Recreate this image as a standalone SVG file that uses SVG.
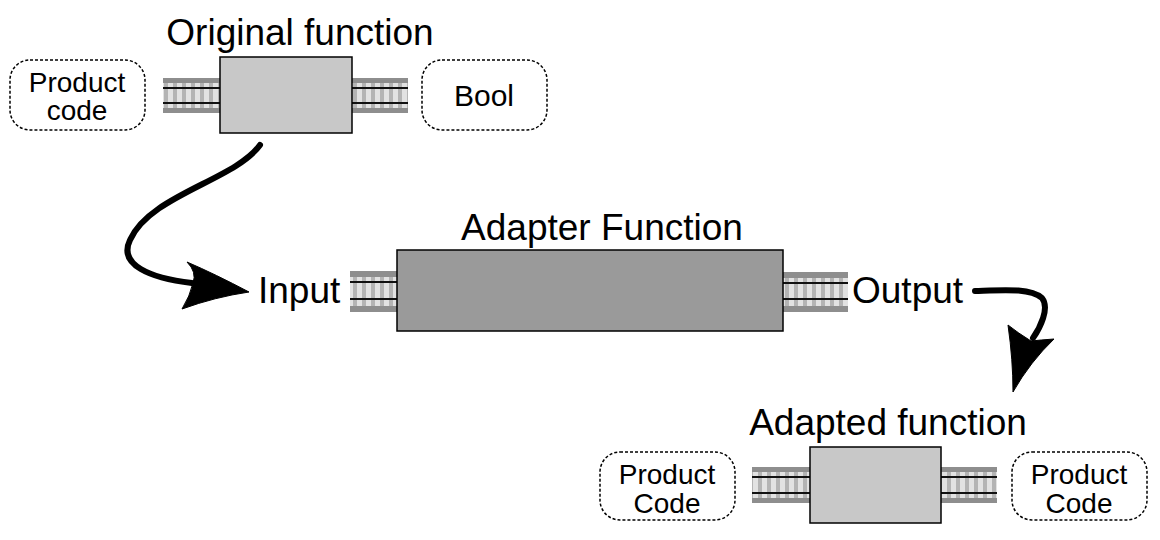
<svg xmlns="http://www.w3.org/2000/svg" width="1160" height="540" viewBox="0 0 1160 540">
<defs>
<style>
.lbl{font-family:"Liberation Sans",Arial,sans-serif;font-size:37px;fill:#000;}
.btxt{font-family:"Liberation Sans",Arial,sans-serif;font-size:28px;fill:#000;text-anchor:middle;}
.bubble{fill:#fff;stroke:#000;stroke-width:1.5;stroke-dasharray:3 2;}
.fn{fill:#c8c8c8;stroke:#000;stroke-width:1.5;}
.adp{fill:#9a9a9a;stroke:#000;stroke-width:1.5;}
.rbg{fill:#e2e2e2;}
.rties{fill:url(#ties);}
.rband{fill:#8e8e8e;}
.rline{fill:#111;}
.conn{fill:none;stroke:#000;stroke-width:6;stroke-linecap:round;}
.head{fill:#000;stroke:#000;stroke-width:1;stroke-linejoin:round;}
</style>
<pattern id="ties" patternUnits="userSpaceOnUse" width="9" height="10" x="0" y="0">
<rect x="2" y="0" width="4" height="10" fill="#b4b4b4"/>
</pattern>
</defs>
<rect width="1160" height="540" fill="#fff"/>

<g id="rails">
<g>
<rect class="rbg" x="163" y="78" width="57" height="35"/>
<rect class="rties" x="163" y="78" width="57" height="35"/>
<rect class="rband" x="163" y="78" width="57" height="5"/>
<rect class="rband" x="163" y="108" width="57" height="5"/>
<rect class="rline" x="163" y="87" width="57" height="2"/>
<rect class="rline" x="163" y="102" width="57" height="2"/>
</g>
<g>
<rect class="rbg" x="352" y="78" width="56" height="35"/>
<rect class="rties" x="352" y="78" width="56" height="35"/>
<rect class="rband" x="352" y="78" width="56" height="5"/>
<rect class="rband" x="352" y="108" width="56" height="5"/>
<rect class="rline" x="352" y="87" width="56" height="2"/>
<rect class="rline" x="352" y="102" width="56" height="2"/>
</g>
<g>
<rect class="rbg" x="350" y="271" width="47" height="41"/>
<rect class="rties" x="350" y="271" width="47" height="41"/>
<rect class="rband" x="350" y="271" width="47" height="6"/>
<rect class="rband" x="350" y="306" width="47" height="6"/>
<rect class="rline" x="350" y="281" width="47" height="2"/>
<rect class="rline" x="350" y="298" width="47" height="2"/>
</g>
<g>
<rect class="rbg" x="783" y="272" width="65" height="40"/>
<rect class="rties" x="783" y="272" width="65" height="40"/>
<rect class="rband" x="783" y="272" width="65" height="6"/>
<rect class="rband" x="783" y="306" width="65" height="6"/>
<rect class="rline" x="783" y="282" width="65" height="2"/>
<rect class="rline" x="783" y="298" width="65" height="2"/>
</g>
<g>
<rect class="rbg" x="752" y="467" width="58" height="36"/>
<rect class="rties" x="752" y="467" width="58" height="36"/>
<rect class="rband" x="752" y="467" width="58" height="5"/>
<rect class="rband" x="752" y="498" width="58" height="5"/>
<rect class="rline" x="752" y="476" width="58" height="2"/>
<rect class="rline" x="752" y="492" width="58" height="2"/>
</g>
<g>
<rect class="rbg" x="941" y="467" width="56" height="36"/>
<rect class="rties" x="941" y="467" width="56" height="36"/>
<rect class="rband" x="941" y="467" width="56" height="5"/>
<rect class="rband" x="941" y="498" width="56" height="5"/>
<rect class="rline" x="941" y="476" width="56" height="2"/>
<rect class="rline" x="941" y="492" width="56" height="2"/>
</g>
</g>

<g id="original-function">
<rect class="fn" x="220" y="57" width="132" height="76"/>
<text class="lbl" x="300" y="45" text-anchor="middle">Original function</text>
</g>
<g id="input-product-code">
<rect class="bubble" x="10" y="60" width="135" height="70" rx="20"/>
<text class="btxt" x="77" y="92">Product</text>
<text class="btxt" x="77" y="120">code</text>
</g>
<g id="output-bool">
<rect class="bubble" x="422" y="60" width="125" height="70" rx="20"/>
<text class="btxt" x="484" y="106" style="font-size:30px">Bool</text>
</g>

<g id="adapter-function">
<rect class="adp" x="397" y="250" width="386" height="81"/>
<text class="lbl" x="602" y="240" text-anchor="middle">Adapter Function</text>
<text class="lbl" x="258" y="303">Input</text>
<text class="lbl" x="852" y="303">Output</text>
</g>

<g id="adapted-function">
<rect class="fn" x="810" y="447" width="131" height="76"/>
<text class="lbl" x="888" y="435" text-anchor="middle">Adapted function</text>
</g>
<g id="adapted-input">
<rect class="bubble" x="600" y="452" width="135" height="68" rx="20"/>
<text class="btxt" x="667" y="484">Product</text>
<text class="btxt" x="667" y="513">Code</text>
</g>
<g id="adapted-output">
<rect class="bubble" x="1012" y="452" width="135" height="68" rx="20"/>
<text class="btxt" x="1079" y="484">Product</text>
<text class="btxt" x="1079" y="513">Code</text>
</g>

<g id="connectors">
<path class="conn" d="M260,145 C235,180 150,195 130,240 C118,265 150,278 192,283"/>
<path class="head" d="M249,292 Q215,274 187,262 Q197,272 193,283 Q190,296 182,309 Q215,297 249,292 Z"/>
<path class="conn" d="M975,291 C1005,290 1030,288 1042,298 C1050,308 1040,328 1033,338"/>
<path class="head" d="M1013,392 Q1030,362 1054,339 Q1040,340 1031,341 Q1018,333 1008,325 Q1013,360 1013,392 Z"/>
</g>
</svg>
